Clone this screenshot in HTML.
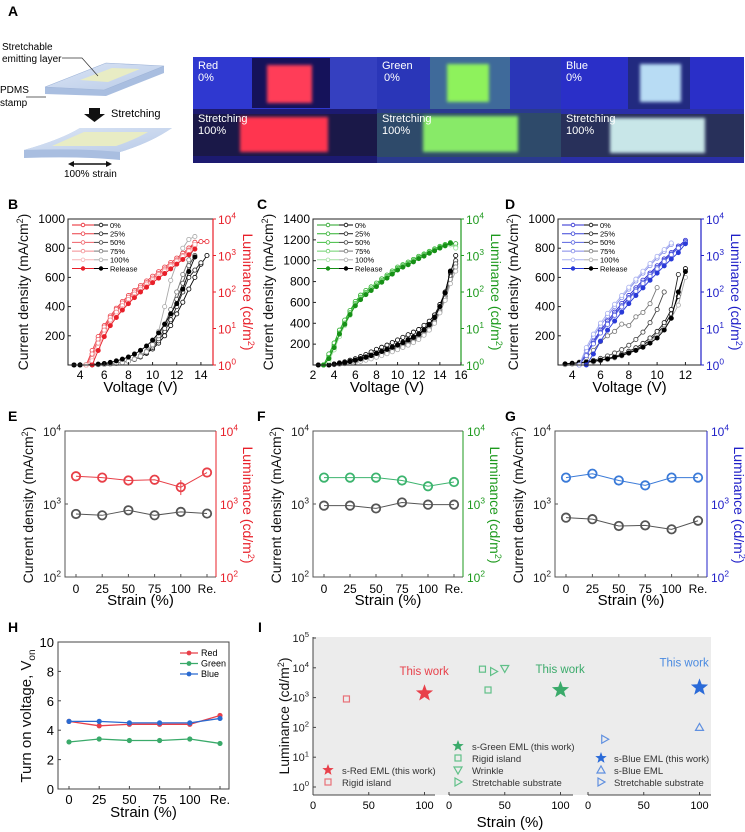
<!DOCTYPE html>
<html><head><meta charset="utf-8"><style>
html,body{margin:0;padding:0;background:#fff;}
svg{display:block;font-family:"Liberation Sans",Arial,sans-serif;}
</style></head><body>
<svg id="fig" width="745" height="832" viewBox="0 0 745 832" xmlns="http://www.w3.org/2000/svg">
<defs>
<filter id="glow" x="-30%" y="-30%" width="160%" height="160%"><feGaussianBlur stdDeviation="1.6"/></filter>
<linearGradient id="slabTop" x1="0" y1="0" x2="1" y2="1"><stop offset="0" stop-color="#dbe5f5"/><stop offset="1" stop-color="#b9cbe8"/></linearGradient>
</defs>
<g id="panelA">
<text x="8" y="16" font-size="14" font-weight="bold">A</text>
<g>
<polygon points="45,87 106,63 164,66 164,73 106,96 45,94" fill="#a9bee0"/>
<polygon points="45,87 106,63 164,66 104,90" fill="url(#slabTop)" stroke="#9fb4d8" stroke-width="0.6"/>
<polygon points="80,80 112,68 140,69 108,82" fill="#e8ecc4"/>
</g>
<text x="2" y="50" font-size="10">Stretchable</text>
<text x="2" y="62" font-size="10">emitting layer</text>
<polyline points="62,58 82,58 98,76" fill="none" stroke="#333" stroke-width="0.7"/>
<text x="0" y="93" font-size="10">PDMS</text>
<text x="0" y="106" font-size="10">stamp</text>
<line x1="26" y1="97" x2="46" y2="97" stroke="#333" stroke-width="0.7"/>
<polygon points="89,108 100,108 100,114 105,114 94.5,122 84,114 89,114" fill="#111"/>
<text x="111" y="117" font-size="11">Stretching</text>
<g>
<path d="M24,150 Q60,140 80,128 L172,128 Q150,143 120,152 L120,160 Q80,156 24,158 Z" fill="#a9bee0"/>
<path d="M24,150 Q60,140 80,128 L172,128 Q150,143 120,152 Q80,148 24,150 Z" fill="url(#slabTop)"/>
<path d="M52,146 Q70,138 84,132 L148,132 Q134,140 116,146 Z" fill="#e8ecc4"/>
</g>
<line x1="72" y1="164" x2="108" y2="164" stroke="#111" stroke-width="1.4"/>
<polygon points="68,164 74,161 74,167" fill="#111"/>
<polygon points="112,164 106,161 106,167" fill="#111"/>
<text x="64" y="177" font-size="10">100% strain</text>
<g>
<rect x="193" y="57" width="551" height="106" fill="#2a2fc0"/>
<rect x="193" y="57" width="184" height="52" fill="#2f38d0"/>
<rect x="252" y="58" width="78" height="50" fill="#15125a"/>
<rect x="330" y="57" width="47" height="52" fill="#3540c0"/>
<rect x="267" y="65" width="45" height="38" fill="#ff3d58" filter="url(#glow)"/>
<rect x="377" y="57" width="184" height="52" fill="#2a36b8"/>
<rect x="430" y="57" width="80" height="52" fill="#3f6a9a"/>
<rect x="447" y="64" width="42" height="38" fill="#8ef25c" filter="url(#glow)"/>
<rect x="561" y="57" width="183" height="52" fill="#2a2fc8"/>
<rect x="628" y="57" width="62" height="52" fill="#222a80"/>
<rect x="640" y="64" width="41" height="38" fill="#b8dcf4" filter="url(#glow)"/>
<rect x="193" y="109" width="184" height="54" fill="#1c1a70"/>
<rect x="193" y="114" width="184" height="42" fill="#1a1848"/>
<rect x="240" y="117" width="88" height="35" fill="#ff3550" filter="url(#glow)"/>
<rect x="377" y="109" width="184" height="54" fill="#2a3a90"/>
<rect x="377" y="113" width="184" height="44" fill="#2e4a6a"/>
<rect x="423" y="116" width="95" height="36" fill="#88ea68" filter="url(#glow)"/>
<rect x="561" y="109" width="183" height="54" fill="#2a2fa8"/>
<rect x="561" y="114" width="183" height="43" fill="#28305a"/>
<rect x="610" y="118" width="95" height="35" fill="#c8e6e8" filter="url(#glow)"/>
<g fill="#fff" font-size="11">
<text x="198" y="69">Red</text>
<text x="198" y="81">0%</text>
<text x="382" y="69">Green</text>
<text x="384" y="81">0%</text>
<text x="566" y="69">Blue</text>
<text x="566" y="81">0%</text>
<text x="198" y="122">Stretching</text>
<text x="198" y="134">100%</text>
<text x="382" y="122">Stretching</text>
<text x="382" y="134">100%</text>
<text x="566" y="122">Stretching</text>
<text x="566" y="134">100%</text>
</g>
</g>
</g>
</svg>
<script>
// ---------- DATA ----------
const strainLabels = ['0%','25%','50%','75%','100%','Release'];
// Panel B (red)
const B_lumV0 = [4.5,4.5,4.5,4.5,4.5,5.0];
const B_lum0 = [1,2,5,10,18,30,45,65,90,125,170,230,310,420,560,750,1000,1500,2100,2400,2400];
const B_lum25 = [1,2.5,6,12,22,36,55,80,110,150,200,270,360,480,640,850,1150,1600,2300];
const B_lum50 = [1,2,5,11,20,33,50,72,100,135,180,240,320,430,570,760,1000,1400,2000];
const B_lum75 = [1,1.5,4,9,17,28,42,62,88,120,165,220,300,400,540,720,980,1350,1900];
const B_lum100 = [1,1.3,3,7,13,22,35,52,75,105,145,200,270,370,500,680,930,1300,2000];
const B_lumRel = [1,2.5,6,12,20,32,48,70,100,135,180,240,320,430,580,780,1050,1500];
const B_jV0 = [3.5,3.5,3.5,3.5,3.5,3.5];
const B_j0 = [0,0,1,2,3,5,8,12,18,26,38,55,80,110,150,200,270,350,430,520,600,690,750];
const B_j25 = [0,0,1,2,3,5,8,12,18,27,40,58,85,120,165,230,310,400,500,600,650,700];
const B_j50 = [0,0,1,2,3,5,8,12,18,28,42,62,90,130,180,250,340,450,560,680,750];
const B_j75 = [0,0,1,2,3,5,8,12,18,28,42,65,95,140,200,280,380,500,620,720,820];
const B_j100 = [0,0,0,1,2,3,6,10,16,25,40,60,90,140,230,400,580,700,800,860,880];
const B_jRel = [0,0,1,3,6,10,18,28,40,55,75,100,130,170,220,280,350,420,520,640,740];
// Panel C (green)
const C_lumV0 = [3.0,3.0,3.0,3.0,3.0,3.0];
const C_lum0 = [1,1.8,3.5,8,15,28,50,75,100,125,160,210,270,350,450,530,620,740,900,1050,1250,1450,1700,1950,2200,2100];
const C_lum25 = [1,2,4,9,17,31,55,82,110,138,175,228,290,375,480,560,660,780,950,1100,1300,1520,1780,2000,2250];
const C_lum50 = [1,1.6,3.2,7.5,14,27,48,72,97,122,157,205,265,342,440,520,610,725,880,1030,1230,1430,1680,1930,2150];
const C_lum75 = [1,1.5,3,7,13,25,45,68,92,118,150,198,255,330,425,505,595,705,860,1000,1200,1400,1640,1880,2050,1700];
const C_lum100 = [1,1.3,2.6,6,12,23,42,64,88,112,145,190,245,318,410,490,578,688,840,980,1170,1370,1600,1820,1950,1600];
const C_lumRel = [1,1.5,3,7,13,24,42,62,85,110,140,185,240,310,400,480,560,670,820,960,1150,1350,1600,1850,2150];
const C_jV0 = [2.5,2.5,2.5,2.5,2.5,2.5];
const C_j0 = [0,0,0,10,20,30,45,60,80,100,125,150,170,190,215,240,265,290,315,340,380,420,480,580,700,880,1050];
const C_j25 = [0,0,0,8,15,25,35,48,62,78,95,115,135,155,175,195,220,245,270,300,340,390,460,560,690,900,1000];
const C_j50 = [0,0,0,5,10,17,25,35,47,60,75,92,110,130,150,170,192,215,240,270,310,360,430,530,660,850,970];
const C_j75 = [0,0,0,4,8,14,21,30,40,52,66,82,100,118,137,157,178,200,225,255,295,345,410,510,640,820,940];
const C_j100 = [0,0,0,3,7,12,18,26,35,46,59,74,90,108,127,147,168,190,215,245,285,335,400,500,620,780,900];
const C_jRel = [0,0,0,7,14,22,32,44,58,73,90,110,130,150,170,192,215,240,265,295,335,385,455,560,690,900];
// Panel D (blue)
const D_lumV0 = [4.5,4.5,4.5,4.5,4.5,5.0];
const D_lum0 = [1,2,4.5,9,16,28,48,80,130,210,330,520,800,1200,1800,2600];
const D_lum25 = [1,2,4,8,14,25,42,70,115,185,300,470,730,1100,1650,2400];
const D_lum50 = [1,1.8,3.8,7.5,13,23,39,65,105,170,270,430,680,1050,1600,2300];
const D_lum75 = [1,2.5,6,12,22,40,70,120,200,330,530,850,1300,2000];
const D_lum100 = [1,3,7,14,26,46,80,135,225,370,600,950,1450,2200];
const D_lumRel = [1,2,4.5,9,16,28,48,80,130,210,330,520,800,1200,2100];
const D_jV0 = [3.5,3.5,3.5,3.5,3.5,3.5];
const D_j0 = [5,8,12,16,22,30,40,52,66,84,105,135,170,215,270,350,470,660];
const D_j25 = [5,8,12,18,25,34,45,58,74,94,118,148,185,230,290,380,620];
const D_j50 = [4,8,14,22,32,45,62,82,105,135,175,225,290,380,500];
const D_j75 = [3,8,20,50,100,160,200,230,280,270,330,360,420,530];
const D_j100 = [2,5,9,14,20,28,37,48,62,80,100,125,160,200,250,320,410,600];
const D_jRel = [8,12,16,20,26,33,42,53,66,82,100,122,150,185,240,320,500,640];
// Panels E/F/G
const strainCats = ['0','25','50','75','100','Re.'];
const E_lum = [2400,2300,2100,2150,1700,2700];
const E_j = [730,700,820,700,780,740];
const F_lum = [2300,2300,2300,2100,1750,2000];
const F_j = [950,950,870,1050,980,980];
const G_lum = [2300,2600,2100,1800,2300,2300];
const G_j = [650,620,500,510,450,590];
// Panel H
const H_red = [4.6,4.3,4.4,4.4,4.4,5.0];
const H_green = [3.2,3.4,3.3,3.3,3.4,3.1];
const H_blue = [4.6,4.6,4.5,4.5,4.5,4.8];
const H_ticks = [0,2,4,6,8,10];
// Panel I
const I_redStrain = [30,100];
const I_redLum = [900,1400];
const I_greenStrain = [30,35,40,50,100];
const I_greenLum = [9000,1800,7500,9500,1800];
const I_blueStrain = [15,100,100];
const I_blueLum = [40,100,2200];

// ---------- HELPERS ----------
const NS='http://www.w3.org/2000/svg';
const svg=document.getElementById('fig');
function mk(tag, attrs, name, parent){
  const el=document.createElementNS(NS,tag);
  for(const k in attrs) el.setAttribute(k,attrs[k]);
  
  
  (parent||svg).appendChild(el);
  return el;
}
function txt(x,y,s,attrs,name,parent){const t=mk('text',Object.assign({x:x,y:y},attrs||{}),name,parent);t.textContent=s;return t;}
function pow10(x,y,e,anchor,color,size,name,parent){
  const t=mk('text',{x:x,y:y,'text-anchor':anchor,fill:color,'font-size':size},name,parent);
  const a=document.createElementNS(NS,'tspan');a.textContent='10';t.appendChild(a);
  const b=document.createElementNS(NS,'tspan');b.setAttribute('dy',-size*0.45);b.setAttribute('font-size',size*0.7);b.textContent=String(e);t.appendChild(b);
  return t;
}
function vtitle(x,y,parts,color,size,rot,name){
  const t=mk('text',{x:0,y:0,'text-anchor':'middle',fill:color,'font-size':size,transform:'translate('+x+','+y+') rotate('+rot+')'},name);
  parts.forEach(p=>{const s=document.createElementNS(NS,'tspan');s.textContent=p[0];if(p[1]){s.setAttribute('dy',p[1]);}if(p[2])s.setAttribute('font-size',p[2]);t.appendChild(s);});
  return t;
}
function series(g,xs,ys,color,filled,name){
  const pts=xs.map((x,i)=>x.toFixed(1)+','+ys[i].toFixed(1)).join(' ');
  mk('polyline',{points:pts,fill:'none',stroke:color,'stroke-width':0.9},name+'-line',g);
  xs.forEach((x,i)=>{mk('circle',{cx:x,cy:ys[i],r:2.1,fill:filled?color:'#fff',stroke:color,'stroke-width':0.8},name+'-point',g);});
}

// ---------- J-V-L PANELS ----------
function jvlPanel(o){
  const g=mk('g',{},o.name);
  const L=o.L,R=o.R,T=219,Bt=365;
  const xs=v=>L+(v-o.x0)/(o.x1-o.x0)*(R-L);
  const yl=j=>Bt-j/o.jmax*(Bt-T);
  const yr=l=>Bt-Math.log10(l)/4*(Bt-T);
  txt(o.lx,209,o.letter,{'font-size':14,'font-weight':'bold'},'panel-label-'+o.letter.toLowerCase(),g);
  o.jArr.forEach((arr,k)=>{const v0=o.jV0[k];series(g,arr.map((_,i)=>xs(v0+0.5*i)),arr.map(yl),o.blk[k],k===5,'current-'+strainLabels[k]);});
  o.lumArr.forEach((arr,k)=>{const v0=o.lumV0[k];series(g,arr.map((_,i)=>xs(v0+0.5*i)),arr.map(yr),o.cols[k],k===5,'luminance-'+strainLabels[k]);});
  mk('path',{d:'M'+R+','+T+' L'+L+','+T+' L'+L+','+Bt+' L'+R+','+Bt,fill:'none',stroke:'#222','stroke-width':1},'plot-frame',g);
  mk('line',{x1:R,y1:T,x2:R,y2:Bt,stroke:o.c,'stroke-width':1.2},'right-axis',g);
  o.xt.forEach(v=>{mk('line',{x1:xs(v),y1:Bt,x2:xs(v),y2:Bt-3,stroke:'#222'},'x-tick',g);txt(xs(v),Bt+14,String(v),{'text-anchor':'middle','font-size':12},'x-tick-label',g);});
  o.yt.forEach(v=>{mk('line',{x1:L,y1:yl(v),x2:L+3,y2:yl(v),stroke:'#222'},'y-tick',g);txt(L-3,yl(v)+4,String(v),{'text-anchor':'end','font-size':12},'y-tick-label',g);});
  [0,1,2,3,4].forEach(e=>{mk('line',{x1:R,y1:yr(Math.pow(10,e)),x2:R+3,y2:yr(Math.pow(10,e)),stroke:o.c},'right-tick',g);pow10(R+5,yr(Math.pow(10,e))+5,e,'start',o.c,12,'right-tick-label',g);});
  txt((L+R)/2,392,'Voltage (V)',{'text-anchor':'middle','font-size':15},'x-axis-title',g);
  vtitle(L-40,292,[['Current density (mA/cm'],['2','-5',9],[')','5']],'#111',14,-90,'y-axis-title-left');
  vtitle(R+30,292,[['Luminance (cd/m'],['2','-5',9],[')','5']],o.c,14,90,'y-axis-title-right');
  strainLabels.forEach((s,k)=>{const y=225+8.7*k;
    mk('line',{x1:L+4,y1:y,x2:L+26,y2:y,stroke:o.cols[k],'stroke-width':1},'legend-color-line',g);
    mk('circle',{cx:L+15,cy:y,r:1.8,fill:k===5?o.cols[k]:'#fff',stroke:o.cols[k],'stroke-width':0.8},'legend-color-marker',g);
    mk('line',{x1:L+26,y1:y,x2:L+40,y2:y,stroke:o.blk[k],'stroke-width':1},'legend-black-line',g);
    mk('circle',{cx:L+33,cy:y,r:1.8,fill:k===5?o.blk[k]:'#fff',stroke:o.blk[k],'stroke-width':0.8},'legend-black-marker',g);
    txt(L+42,y+2.8,s,{'font-size':7.5},'legend-entry',g);});
}
const blk=['#000','#222','#444','#777','#aaa','#000'];
jvlPanel({name:'panel-b',letter:'B',lx:8,L:68,R:213,x0:3,x1:15,jmax:1000,c:'#e8202a',cols:['#e8202a','#ec3d45','#ef6168','#f28c90','#f6b4b6','#e8202a'],blk:blk,
  xt:[4,6,8,10,12,14],yt:[200,400,600,800,1000],lumV0:B_lumV0,lumArr:[B_lum0,B_lum25,B_lum50,B_lum75,B_lum100,B_lumRel],jV0:B_jV0,jArr:[B_j0,B_j25,B_j50,B_j75,B_j100,B_jRel]});
jvlPanel({name:'panel-c',letter:'C',lx:257,L:313,R:461,x0:2,x1:16,jmax:1400,c:'#1e9a1e',cols:['#22a022','#2eb02e','#40bd40','#6cd06c','#a0e0a0','#169016'],blk:blk,
  xt:[2,4,6,8,10,12,14,16],yt:[200,400,600,800,1000,1200,1400],lumV0:C_lumV0,lumArr:[C_lum0,C_lum25,C_lum50,C_lum75,C_lum100,C_lumRel],jV0:C_jV0,jArr:[C_j0,C_j25,C_j50,C_j75,C_j100,C_jRel]});
jvlPanel({name:'panel-d',letter:'D',lx:505,L:558,R:701,x0:3,x1:13.1,jmax:1000,c:'#2020c8',cols:['#2a2ad0','#3a44d8','#5a64e0','#8088e8','#a8b0f0','#2a3ad8'],blk:blk,
  xt:[4,6,8,10,12],yt:[200,400,600,800,1000],lumV0:D_lumV0,lumArr:[D_lum0,D_lum25,D_lum50,D_lum75,D_lum100,D_lumRel],jV0:D_jV0,jArr:[D_j0,D_j25,D_j50,D_j75,D_j100,D_jRel]});

// ---------- E/F/G ----------
function strainPanel(o){
  const g=mk('g',{},o.name);
  const L=o.L,R=o.R,T=431,Bt=577;
  const xs=i=>L+11+i*(R-L-20)/5;
  const yl=v=>Bt-(Math.log10(v)-2)/2*(Bt-T);
  txt(o.lx,421,o.letter,{'font-size':14,'font-weight':'bold'},'panel-label-'+o.letter.toLowerCase(),g);
  mk('path',{d:'M'+R+','+T+' L'+L+','+T+' L'+L+','+Bt+' L'+R+','+Bt,fill:'none',stroke:'#555','stroke-width':1},'plot-frame',g);
  mk('line',{x1:R,y1:T,x2:R,y2:Bt,stroke:o.c,'stroke-width':1},'right-axis',g);
  [2,3,4].forEach(e=>{pow10(L-4,yl(Math.pow(10,e))+5,e,'end','#222',12,'left-tick-label',g);pow10(R+4,yl(Math.pow(10,e))+5,e,'start',o.c,12,'right-tick-label',g);
    mk('line',{x1:L,y1:yl(Math.pow(10,e)),x2:L+3,y2:yl(Math.pow(10,e)),stroke:'#555'},'y-tick',g);});
  strainCats.forEach((s,i)=>{txt(xs(i),Bt+16,s,{'text-anchor':'middle','font-size':12},'x-tick-label',g);mk('line',{x1:xs(i),y1:Bt,x2:xs(i),y2:Bt-3,stroke:'#555'},'x-tick',g);});
  const draw=(arr,col,nm)=>{mk('polyline',{points:arr.map((v,i)=>xs(i)+','+yl(v)).join(' '),fill:'none',stroke:col,'stroke-width':1},nm+'-line',g);
    arr.forEach((v,i)=>{mk('circle',{cx:xs(i),cy:yl(v),r:4.2,fill:'none',stroke:col,'stroke-width':1.8},nm+'-point',g);});};
  draw(o.j,'#555','current');draw(o.lum,o.mc,'luminance');
  if(o.err){const i=4,v=o.lum[i];mk('line',{x1:xs(i),y1:yl(v*1.25),x2:xs(i),y2:yl(v*0.78),stroke:o.mc},'error-bar',g);}
  txt((L+R)/2,605,'Strain (%)',{'text-anchor':'middle','font-size':15},'x-axis-title',g);
  vtitle(L-32,505,[['Current density (mA/cm'],['2','-5',9],[')','5']],'#111',14,-90,'y-axis-title-left');
  vtitle(R+27,505,[['Luminance (cd/m'],['2','-5',9],[')','5']],o.c,14,90,'y-axis-title-right');
}
strainPanel({name:'panel-e',letter:'E',lx:8,L:65,R:216,c:'#e8202a',mc:'#e84048',lum:E_lum,j:E_j,err:true});
strainPanel({name:'panel-f',letter:'F',lx:257,L:313,R:463,c:'#1e9a1e',mc:'#3cb46e',lum:F_lum,j:F_j});
strainPanel({name:'panel-g',letter:'G',lx:505,L:555,R:707,c:'#2020c8',mc:'#3a7ad8',lum:G_lum,j:G_j});

// ---------- H ----------
(function(){
  const g=mk('g',{},'panel-h');
  const L=58,R=229,T=642,Bt=789;
  const xs=i=>69+i*30.2;
  const yl=v=>Bt-v/10*(Bt-T);
  txt(8,632,'H',{'font-size':14,'font-weight':'bold'},'panel-label-h',g);
  mk('rect',{x:L,y:T,width:R-L,height:Bt-T,fill:'none',stroke:'#444','stroke-width':1},'plot-frame',g);
  H_ticks.forEach(v=>{txt(L-4,yl(v)+5,String(v),{'text-anchor':'end','font-size':13},'y-tick-label',g);mk('line',{x1:L,y1:yl(v),x2:L+3,y2:yl(v),stroke:'#444'},'y-tick',g);});
  strainCats.forEach((s,i)=>{txt(xs(i),Bt+15,s,{'text-anchor':'middle','font-size':13},'x-tick-label',g);mk('line',{x1:xs(i),y1:Bt,x2:xs(i),y2:Bt-3,stroke:'#444'},'x-tick',g);});
  const draw=(arr,col,nm)=>{mk('polyline',{points:arr.map((v,i)=>xs(i)+','+yl(v)).join(' '),fill:'none',stroke:col,'stroke-width':1.3},nm+'-line',g);
    arr.forEach((v,i)=>{mk('circle',{cx:xs(i),cy:yl(v),r:2.6,fill:col},nm+'-point',g);});};
  draw(H_red,'#e8404a','red');draw(H_green,'#3aaa6a','green');draw(H_blue,'#2a6ad0','blue');
  [['Red','#e8404a'],['Green','#3aaa6a'],['Blue','#2a6ad0']].forEach((e,k)=>{const y=653+10.5*k;
    mk('line',{x1:180,y1:y,x2:198,y2:y,stroke:e[1],'stroke-width':1.3},'legend-line',g);
    mk('circle',{cx:189,cy:y,r:2.4,fill:e[1]},'legend-marker',g);
    txt(201,y+3.2,e[0],{'font-size':9},'legend-entry',g);});
  txt((L+R)/2,817,'Strain (%)',{'text-anchor':'middle','font-size':15},'x-axis-title',g);
  vtitle(31,716,[['Turn on voltage, V'],['on','4',10]],'#111',15,-90,'y-axis-title');
})();

// ---------- I ----------
(function(){
  const g=mk('g',{},'panel-i');
  const T=637,Bt=795,L=313,R=711;
  const yl=v=>787-Math.log10(v)*29.8;
  const subs=[[313,435],[449,573],[588,711]];
  const xsub=(k,s)=>[313,449,588][k]+s*1.115;
  txt(258,632,'I',{'font-size':14,'font-weight':'bold'},'panel-label-i',g);
  mk('rect',{x:L,y:T,width:R-L,height:Bt-T,fill:'#ececec'},'plot-background',g);
  mk('line',{x1:L,y1:T,x2:L,y2:Bt,stroke:'#444'},'y-axis',g);
  [0,1,2,3,4,5].forEach(e=>{const y=yl(Math.pow(10,e));pow10(L-4,y+4,e,'end','#222',11,'y-tick-label',g);mk('line',{x1:L,y1:y,x2:L+3,y2:y,stroke:'#444'},'y-tick',g);});
  subs.forEach((s,k)=>{mk('line',{x1:s[0],y1:Bt,x2:s[1],y2:Bt,stroke:'#444'},'x-axis-segment',g);
    [0,50,100].forEach(v=>{txt(xsub(k,v),Bt+14,String(v),{'text-anchor':'middle','font-size':11},'x-tick-label',g);mk('line',{x1:xsub(k,v),y1:Bt,x2:xsub(k,v),y2:Bt-3,stroke:'#444'},'x-tick',g);});});
  function star(cx,cy,r,col,nm){let p=[];for(let i=0;i<10;i++){const a=-Math.PI/2+i*Math.PI/5,rr=i%2?r*0.42:r;p.push((cx+rr*Math.cos(a)).toFixed(1)+','+(cy+rr*Math.sin(a)).toFixed(1));}return mk('polygon',{points:p.join(' '),fill:col},nm,g);}
  function marker(type,cx,cy,col,nm){
    if(type==='sq') return mk('rect',{x:cx-3,y:cy-3,width:6,height:6,fill:'none',stroke:col,'stroke-width':1.2},nm,g);
    if(type==='rt') return mk('polygon',{points:(cx-3)+','+(cy-4)+' '+(cx+4)+','+cy+' '+(cx-3)+','+(cy+4),fill:'none',stroke:col,'stroke-width':1.2},nm,g);
    if(type==='dn') return mk('polygon',{points:(cx-4)+','+(cy-3)+' '+(cx+4)+','+(cy-3)+' '+cx+','+(cy+4),fill:'none',stroke:col,'stroke-width':1.2},nm,g);
    if(type==='up') return mk('polygon',{points:(cx-4)+','+(cy+3)+' '+(cx+4)+','+(cy+3)+' '+cx+','+(cy-4),fill:'none',stroke:col,'stroke-width':1.2},nm,g);
  }
  const RC='#e8404a',GC='#3aaa6a',BC='#2a6ad8';
  marker('sq',xsub(0,I_redStrain[0]),yl(I_redLum[0]),'#e87078','red-rigid-island');
  star(xsub(0,I_redStrain[1]),yl(I_redLum[1]),9,RC,'red-this-work');
  txt(xsub(0,100)-25,yl(I_redLum[1])-18,'This work',{'font-size':11.5,fill:RC},'red-this-work-label',g);
  const gTypes=['sq','sq','rt','dn'];
  gTypes.forEach((t,i)=>marker(t,xsub(1,I_greenStrain[i]),yl(I_greenLum[i]),'#60c088','green-reference-'+i));
  star(xsub(1,I_greenStrain[4]),yl(I_greenLum[4]),9,GC,'green-this-work');
  txt(xsub(1,100)-25,yl(I_greenLum[4])-17,'This work',{'font-size':11.5,fill:GC},'green-this-work-label',g);
  marker('rt',xsub(2,I_blueStrain[0]),yl(I_blueLum[0]),'#6090e0','blue-stretchable-substrate');
  marker('up',xsub(2,I_blueStrain[1]),yl(I_blueLum[1]),'#6090e0','blue-seml');
  star(xsub(2,I_blueStrain[2]),yl(I_blueLum[2]),9,BC,'blue-this-work');
  txt(xsub(2,100)-40,yl(I_blueLum[2])-21,'This work',{'font-size':11.5,fill:'#4a8ae0'},'blue-this-work-label',g);
  star(328,770,6,RC,'legend-red-star');txt(342,774,'s-Red EML (this work)',{'font-size':9.5,fill:'#333'},'legend-entry',g);
  marker('sq',328,782,'#e87078','legend-red-square');txt(342,786,'Rigid island',{'font-size':9.5,fill:'#333'},'legend-entry',g);
  star(458,746,6,GC,'legend-green-star');txt(472,750,'s-Green EML (this work)',{'font-size':9.5,fill:'#333'},'legend-entry',g);
  marker('sq',458,758,'#60c088','legend-green-square');txt(472,762,'Rigid island',{'font-size':9.5,fill:'#333'},'legend-entry',g);
  marker('dn',458,770,'#60c088','legend-green-wrinkle');txt(472,774,'Wrinkle',{'font-size':9.5,fill:'#333'},'legend-entry',g);
  marker('rt',458,782,'#60c088','legend-green-substrate');txt(472,786,'Stretchable substrate',{'font-size':9.5,fill:'#333'},'legend-entry',g);
  star(601,758,6,BC,'legend-blue-star');txt(614,762,'s-Blue EML (this work)',{'font-size':9.5,fill:'#333'},'legend-entry',g);
  marker('up',601,770,'#6090e0','legend-blue-seml');txt(614,774,'s-Blue EML',{'font-size':9.5,fill:'#333'},'legend-entry',g);
  marker('rt',601,782,'#6090e0','legend-blue-substrate');txt(614,786,'Stretchable substrate',{'font-size':9.5,fill:'#333'},'legend-entry',g);
  txt(510,827,'Strain (%)',{'text-anchor':'middle','font-size':15},'x-axis-title',g);
  vtitle(289,716,[['Luminance (cd/m'],['2','-5',9],[')','5']],'#111',14,-90,'y-axis-title');
})();
</script>
</body></html>
